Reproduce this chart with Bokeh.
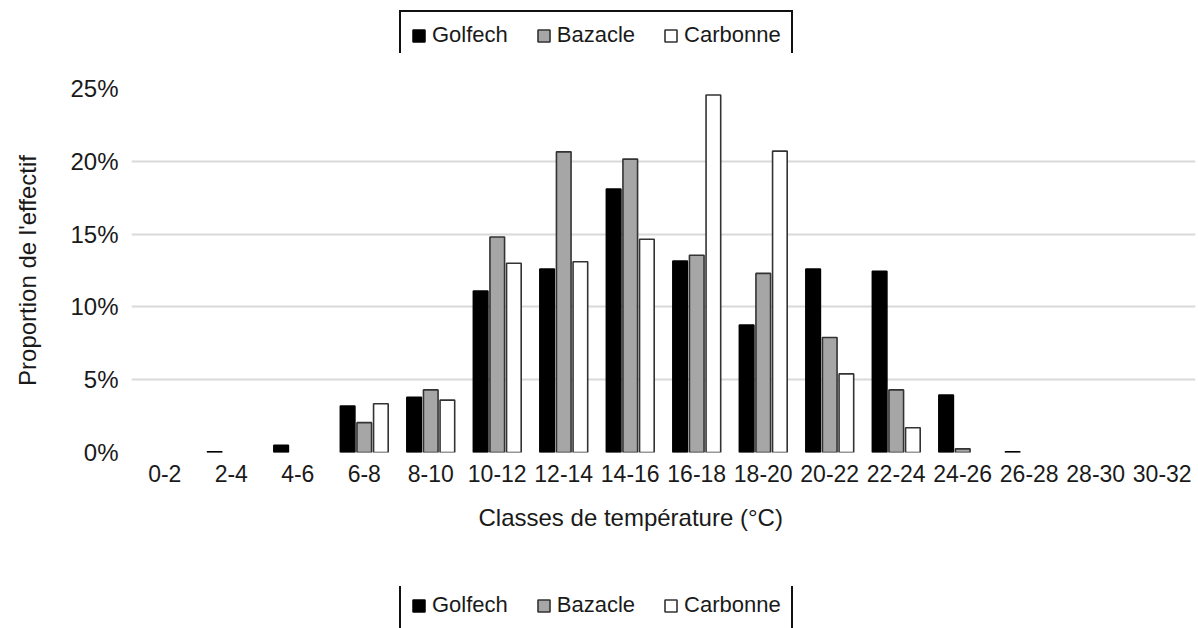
from bokeh.plotting import figure
from bokeh.models import (ColumnDataSource, FactorRange, Range1d, FixedTicker,
                          PrintfTickFormatter, Legend, LegendItem, Title)
from bokeh.layouts import column
from bokeh.transform import dodge
from bokeh.embed import file_html
from bokeh.resources import INLINE

categories = ["0-2", "2-4", "4-6", "6-8", "8-10", "10-12", "12-14", "14-16",
              "16-18", "18-20", "20-22", "22-24", "24-26", "26-28", "28-30", "30-32"]
golfech = [0, 0.05, 0.5, 3.2, 3.8, 11.1, 12.6, 18.1, 13.15, 8.75, 12.6, 12.45, 3.95, 0.06, 0, 0]
bazacle = [0, 0, 0, 2.05, 4.3, 14.8, 20.65, 20.15, 13.55, 12.3, 7.9, 4.3, 0.25, 0, 0, 0]
carbonne = [0, 0, 0, 3.35, 3.6, 13.0, 13.1, 14.65, 24.55, 20.7, 5.4, 1.7, 0, 0, 0, 0]
series = ["Golfech", "Bazacle", "Carbonne"]
y_ticks = [0, 5, 10, 15, 20, 25]

FONT = "Liberation Sans"
TXT = "#1a1a1a"
STYLES = [dict(fill_color="black", line_color="black", line_width=1.5),
          dict(fill_color="#a6a6a6", line_color="#333333", line_width=1.6),
          dict(fill_color="white", line_color="#333333", line_width=1.6)]
FIG_W = 1196

# ---------------- main chart ----------------
p = figure(x_range=FactorRange(factors=categories, range_padding=0),
           y_range=Range1d(0, 25),
           width=FIG_W, height=533, output_backend="svg", toolbar_location=None,
           min_border_left=131, min_border_right=1, min_border_top=35, min_border_bottom=134)
p.outline_line_color = None
p.background_fill_color = "white"
p.border_fill_color = "white"


def src(vals):
    c = [k for k, v in zip(categories, vals) if v > 0]
    v = [v for v in vals if v > 0]
    return ColumnDataSource(dict(cats=c, val=v))


W = 0.22
for vals, off, st in zip([golfech, bazacle, carbonne], [-0.25, 0.0, 0.25], STYLES):
    p.vbar(x=dodge("cats", off, range=p.x_range), top="val", width=W, source=src(vals), **st)

p.yaxis.ticker = FixedTicker(ticks=y_ticks)
p.yaxis.formatter = PrintfTickFormatter(format="%d%%")
for ax in (p.xaxis[0], p.yaxis[0]):
    ax.axis_line_color = None
    ax.major_tick_line_color = None
    ax.minor_tick_line_color = None
    ax.major_label_text_font = FONT
    ax.major_label_text_font_size = "23px"
    ax.major_label_text_color = TXT
    ax.axis_label_text_font = FONT
    ax.axis_label_text_font_size = "24px"
    ax.axis_label_text_font_style = "normal"
    ax.axis_label_text_color = TXT
p.yaxis.major_label_text_font_size = "24px"
p.yaxis.major_label_standoff = 7
p.yaxis.axis_label = "Proportion de l'effectif"
p.yaxis.axis_label_standoff = 26
p.xaxis.major_label_standoff = 6

p.xgrid.grid_line_color = None
p.ygrid.grid_line_color = "#d9d9d9"
p.ygrid.grid_line_width = 2

p.add_layout(Title(text="Classes de température (°C)", align="left", offset=347,
                   text_font=FONT, text_font_size="24px", text_font_style="normal",
                   text_color=TXT, standoff=35), "below")


# ---------------- legend strips ----------------
def legend_strip(h, loc):
    f = figure(width=FIG_W, height=h, x_range=Range1d(0, 1), y_range=Range1d(0, 1),
               output_backend="svg", toolbar_location=None,
               min_border=0, x_axis_type=None, y_axis_type=None)
    f.outline_line_color = None
    f.grid.visible = False
    f.background_fill_color = "white"
    f.border_fill_color = "white"
    items = []
    for name, st in zip(series, STYLES):
        # swatch-only renderer: its single bar lies below the strip's visible range
        r = f.vbar(x=[0.5], bottom=[-30], top=[-20], width=0.1, **st)
        items.append(LegendItem(label=name, renderers=[r]))
    lg = Legend(items=items, orientation="horizontal", location=loc)
    lg.label_text_font = FONT
    lg.label_text_font_size = "22px"
    lg.label_text_color = TXT
    lg.glyph_width = 15
    lg.glyph_height = 15
    lg.label_standoff = 6
    lg.spacing = 28
    lg.padding = 10
    lg.margin = 0
    lg.label_height = 24
    lg.border_line_color = "#111111"
    lg.border_line_alpha = 1
    lg.border_line_width = 2
    lg.background_fill_color = "white"
    lg.background_fill_alpha = 1
    f.add_layout(lg, "center")
    return f


top = legend_strip(53, (268, -7))
bottom = legend_strip(42, (268, -2))

layout = column(top, p, bottom, spacing=0)
open("out.html", "w").write(file_html(layout, INLINE))
